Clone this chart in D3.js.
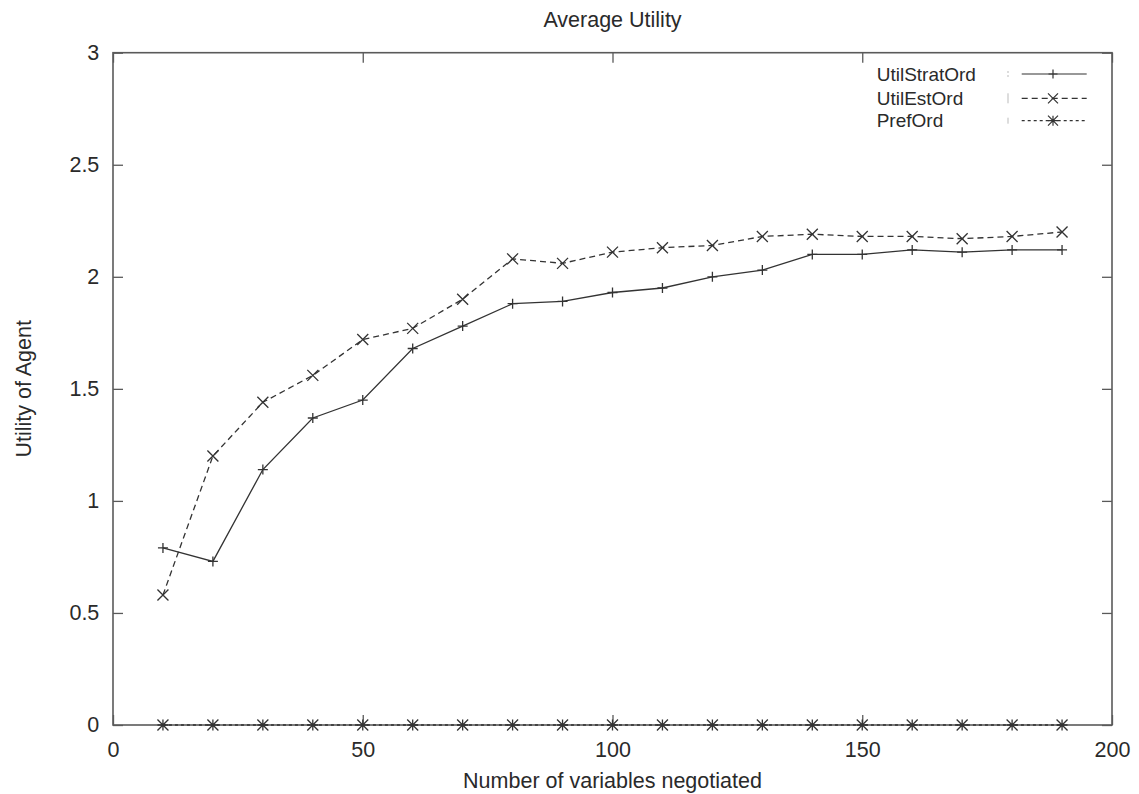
<!DOCTYPE html>
<html>
<head>
<meta charset="utf-8">
<script src="https://cdn.jsdelivr.net/npm/d3@7"></script>
<style>
  html, body { margin: 0; padding: 0; background: #fff; }
  svg { display: block; }
  text { font-family: "Liberation Sans", Arial, Helvetica, sans-serif; fill: #2a2a2a; }
</style>
</head>
<body>
<svg id="chart" width="1139" height="794"></svg>
<script>
// Number of variables negotiated (x values)
const variables = [10, 20, 30, 40, 50, 60, 70, 80, 90, 100, 110, 120, 130, 140, 150, 160, 170, 180, 190];

// Average utility per ordering strategy
const utilStratOrd = [0.79, 0.73, 1.14, 1.37, 1.45, 1.68, 1.78, 1.88, 1.89, 1.93, 1.95, 2.00, 2.03, 2.10, 2.10, 2.12, 2.11, 2.12, 2.12];
const utilEstOrd   = [0.58, 1.20, 1.44, 1.56, 1.72, 1.77, 1.90, 2.08, 2.06, 2.11, 2.13, 2.14, 2.18, 2.19, 2.18, 2.18, 2.17, 2.18, 2.20];
const prefOrd      = [0, 0, 0, 0, 0, 0, 0, 0, 0, 0, 0, 0, 0, 0, 0, 0, 0, 0, 0];

const seriesNames = ["UtilStratOrd", "UtilEstOrd", "PrefOrd"];
const xTicks = [0, 50, 100, 150, 200];
const yTicks = [0, 0.5, 1, 1.5, 2, 2.5, 3];

const svg = d3.select("#chart");
const plotLeft = 113, plotRight = 1112, plotTop = 52.7, plotBottom = 725;

const x = d3.scaleLinear().domain([0, 200]).range([plotLeft, plotRight]);
const y = d3.scaleLinear().domain([0, 3]).range([plotBottom, plotTop]);

const axisColor = "#5a5a5a";
const lineColor = "#333";

// marker shapes: plus, times, asterisk
function markerPath(kind, r) {
  const p = d3.path();
  if (kind === "plus" || kind === "star") {
    p.moveTo(-r, 0); p.lineTo(r, 0);
    p.moveTo(0, -r); p.lineTo(0, r);
  }
  if (kind === "times" || kind === "star") {
    p.moveTo(-r, -r); p.lineTo(r, r);
    p.moveTo(-r, r); p.lineTo(r, -r);
  }
  return p.toString();
}

// axes with inward ticks on all four sides
const tickLen = 10;
function styleAxis(g) {
  g.select(".domain").remove();
  g.selectAll(".tick line").attr("stroke", axisColor).attr("stroke-width", 1.3);
  g.selectAll(".tick text").attr("font-size", "21.5px").style("fill", "#2a2a2a");
}

svg.append("g")
  .attr("transform", `translate(0,${plotBottom})`)
  .call(d3.axisBottom(x).tickValues(xTicks).tickSizeInner(-tickLen).tickSizeOuter(0).tickPadding(16.7).tickFormat(d3.format("d")))
  .call(styleAxis);

svg.append("g")
  .attr("transform", `translate(0,${plotTop})`)
  .call(d3.axisTop(x).tickValues(xTicks).tickSizeInner(-tickLen).tickSizeOuter(0).tickFormat(""))
  .call(styleAxis);

svg.append("g")
  .attr("transform", `translate(${plotLeft},0)`)
  .call(d3.axisLeft(y).tickValues(yTicks).tickSizeInner(-tickLen).tickSizeOuter(0).tickPadding(13.7).tickFormat(d => String(d)))
  .call(styleAxis);

svg.append("g")
  .attr("transform", `translate(${plotRight},0)`)
  .call(d3.axisRight(y).tickValues(yTicks).tickSizeInner(-tickLen).tickSizeOuter(0).tickFormat(""))
  .call(styleAxis);

// plot border
svg.append("rect")
  .attr("x", plotLeft).attr("y", plotTop)
  .attr("width", plotRight - plotLeft).attr("height", plotBottom - plotTop)
  .attr("fill", "none").attr("stroke", axisColor).attr("stroke-width", 1.6);

// series definitions
const series = [
  { name: seriesNames[0], values: utilStratOrd, dash: null,  marker: "plus",  r: 5 },
  { name: seriesNames[1], values: utilEstOrd,   dash: "6,4", marker: "times", r: 5.5 },
  { name: seriesNames[2], values: prefOrd,      dash: "3,3", marker: "star",  r: 5.5 }
];

const line = d3.line().x(d => x(d[0])).y(d => y(d[1]));

series.forEach(s => {
  const pts = variables.map((v, i) => [v, s.values[i]]);
  svg.append("path")
    .datum(pts)
    .attr("d", line)
    .attr("fill", "none")
    .attr("stroke", lineColor)
    .attr("stroke-width", 1.3)
    .attr("stroke-dasharray", s.dash);
  svg.append("g").selectAll("path")
    .data(pts)
    .join("path")
    .attr("transform", d => `translate(${x(d[0])},${y(d[1])})`)
    .attr("d", markerPath(s.marker, s.r))
    .attr("fill", "none")
    .attr("stroke", lineColor)
    .attr("stroke-width", 1.3);
});

// legend
const legendRows = [74, 98.3, 120.7];
const legend = svg.append("g");
series.forEach((s, i) => {
  const ly = legendRows[i];
  legend.append("text")
    .attr("x", 876.7).attr("y", ly)
    .attr("dy", "0.35em")
    .attr("font-size", "19px")
    .text(s.name);
  legend.append("line")
    .attr("x1", 1021.7).attr("x2", 1086.7)
    .attr("y1", ly).attr("y2", ly)
    .attr("stroke", lineColor)
    .attr("stroke-width", 1.2)
    .attr("stroke-dasharray", s.dash);
  legend.append("path")
    .attr("transform", `translate(1053,${ly})`)
    .attr("d", markerPath(s.marker, s.r - 0.5))
    .attr("fill", "none")
    .attr("stroke", lineColor)
    .attr("stroke-width", 1.2);
  // faint key stub left of each sample
  legend.append("line")
    .attr("x1", 1008).attr("x2", 1008)
    .attr("y1", ly - (i === 1 ? 5 : 3)).attr("y2", ly + (i === 1 ? 5 : 3))
    .attr("stroke", "#bbb")
    .attr("stroke-width", 1)
    .attr("stroke-dasharray", i === 0 ? "2,2" : null);
});

// title and axis labels
svg.append("text")
  .attr("x", (plotLeft + plotRight) / 2).attr("y", 27)
  .attr("text-anchor", "middle")
  .attr("font-size", "21.5px")
  .text("Average Utility");

svg.append("text")
  .attr("x", (plotLeft + plotRight) / 2).attr("y", 788)
  .attr("text-anchor", "middle")
  .attr("font-size", "21.5px")
  .text("Number of variables negotiated");

svg.append("text")
  .attr("transform", `translate(31,${(plotTop + plotBottom) / 2}) rotate(-90)`)
  .attr("text-anchor", "middle")
  .attr("font-size", "21.5px")
  .text("Utility of Agent");
</script>
</body>
</html>
